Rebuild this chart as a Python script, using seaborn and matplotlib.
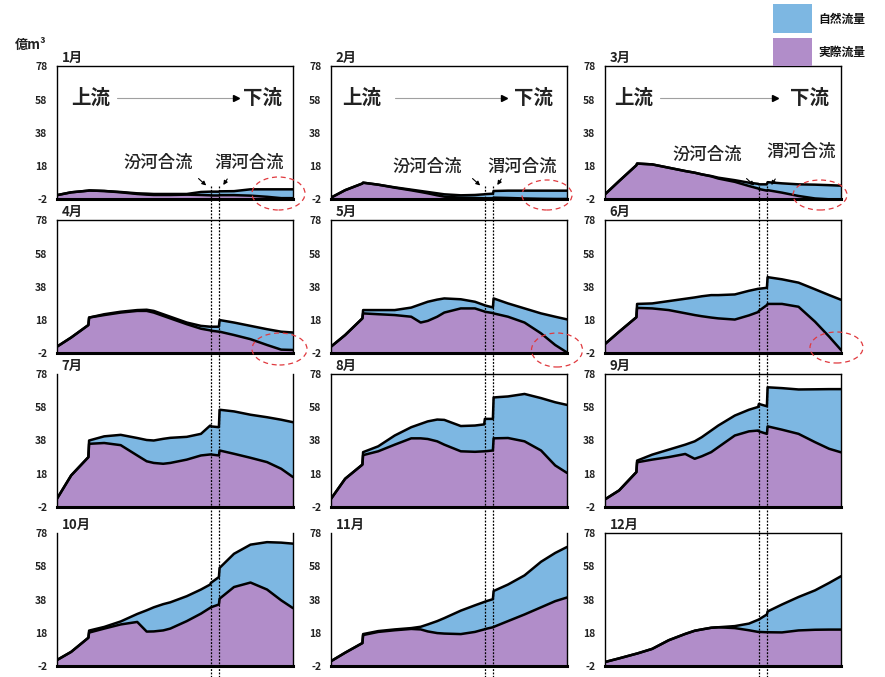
import numpy as np
import pandas as pd
import matplotlib.pyplot as plt
import seaborn as sns
from matplotlib.patches import Ellipse, Rectangle
from matplotlib.lines import Line2D

# distance along the river (% of reach), shared by every month
x_pos = [0, 6, 13.3, 13.6, 20, 27, 34, 38, 41, 45, 48, 55, 61, 64.9, 65.2, 68.6, 68.9, 75, 82, 89, 95, 100]
months = ["1月", "2月", "3月", "4月", "5月", "6月", "7月", "8月", "9月", "10月", "11月", "12月"]
fen_x, wei_x = 65.1, 68.8
y_ticks = [-2, 18, 38, 58, 78]

# natural flow (upper curve) and actual flow (lower curve), 億m3
natural_01 = [0.5, 2.2, 3.2, 3.3, 3.0, 2.4, 1.6, 1.4, 1.2, 1.2, 1.2, 1.2, 2.4, 2.6, 2.6, 2.6, 2.8, 2.9, 4.0, 4.0, 4.0, 4.0]
actual_01 = [0.5, 2.2, 3.2, 3.3, 3.0, 2.2, 1.2, 0.8, 0.6, 0.6, 0.6, 0.8, 0.6, 0.4, 0.3, 0.3, 0.5, 0.5, 0.2, -0.5, -1.3, -1.3]
natural_02 = [-1, 3.5, 7.5, 8.0, 6.8, 5.2, 3.8, 3.0, 2.4, 1.6, 1.0, 0.4, 0.6, 1.0, 1.1, 1.4, 3.0, 3.2, 3.2, 3.2, 3.2, 3.2]
actual_02 = [-1, 3.5, 7.5, 8.0, 6.8, 5.0, 3.4, 2.4, 1.6, 0.4, -0.4, -1.0, -1.2, -1.4, -1.4, -1.4, -1.0, -1.2, -1.5, -1.7, -1.8, -1.8]
natural_03 = [1, 9, 18.5, 19.5, 19, 17, 15, 14, 13, 12, 11, 9.5, 8.0, 7.3, 7.0, 7.0, 8.3, 7.6, 7.0, 6.8, 6.5, 6.2]
actual_03 = [1, 9, 18.5, 19.5, 19, 17, 15, 14, 13, 11.8, 10.5, 8.5, 6.0, 4.5, 4.2, 3.2, 3.5, 2.0, 0.0, -1.5, -2, -2]
natural_04 = [2, 7.5, 15, 19.5, 21.5, 23, 24, 24.2, 23.5, 21.5, 20, 16.5, 14.5, 14, 14, 14, 18, 16.5, 14.5, 12.5, 11, 10.5]
actual_04 = [2, 7.5, 15, 19.5, 21, 22.5, 23.5, 23.5, 22.5, 20.5, 19, 15.5, 12.8, 11.8, 11.6, 11, 11, 9, 6.5, 3, 0.2, 0]
natural_05 = [2, 9, 19, 24, 24, 24, 25.5, 27.5, 29, 30.3, 31, 30.5, 29, 27, 26.8, 25.6, 31, 28, 25, 22, 20, 18.4]
actual_05 = [2, 9, 19, 22, 21.5, 21, 20, 16.5, 17.5, 20, 22.5, 25, 25, 23.2, 23, 22.2, 22, 20, 16.5, 10, 3, -1.5]
natural_06 = [3.6, 11, 19.7, 27.7, 28, 29.4, 30.8, 31.6, 32.3, 33, 33, 33.4, 35.6, 36.8, 36.8, 37.4, 43.8, 42.5, 40.5, 36.5, 33, 30.2]
actual_06 = [3.6, 11, 19.7, 25.3, 25, 24, 22.1, 21, 20.3, 19.5, 19, 18.3, 20.8, 22.8, 23.5, 27, 27.7, 27.7, 26, 17, 8, 0]
natural_07 = [3, 17, 28, 38, 40.5, 41.4, 39.5, 38.3, 38, 39, 39.6, 40.2, 42, 47, 46.5, 46, 56.5, 55.5, 53.5, 52, 50.5, 49]
actual_07 = [3, 17, 28, 36, 36.5, 35.2, 29, 25.5, 24.5, 24, 24.5, 26.5, 29, 29.6, 29.6, 29, 32, 30, 27.6, 25, 21, 16]
natural_08 = [2.9, 15, 23.5, 31, 34.5, 41, 46, 48, 49.5, 50.6, 50.4, 46.7, 47, 47.7, 51, 51, 63.9, 64.5, 66, 63.5, 61, 59.4]
actual_08 = [2.9, 15, 23.5, 29.2, 31.5, 35.5, 39.3, 39.3, 38.9, 37.5, 35.5, 31.5, 31.2, 31.5, 31.5, 32, 39.3, 39.5, 37.5, 32, 23, 18.5]
natural_09 = [2.6, 8, 19, 25.9, 29.5, 32.5, 35.5, 37.5, 40, 44, 47, 53, 56.5, 58.2, 60, 58.6, 70, 69.5, 68.7, 68.8, 68.9, 68.9]
actual_09 = [2.6, 8, 19, 24.9, 26.5, 28, 29.9, 27, 28.5, 31, 34, 41, 43.5, 44, 43.5, 42, 46.5, 44.5, 42, 37, 33, 30.9]
natural_10 = [1.6, 6.5, 15, 19.3, 21.5, 24.8, 29.3, 31.5, 33.3, 35.2, 36.3, 40, 44, 47, 48, 51.5, 57, 65.5, 71, 72.5, 72.2, 71.6]
actual_10 = [1.6, 6.5, 15, 18.1, 20.5, 23, 24.5, 18.7, 18.8, 19.4, 20.5, 25, 29.5, 33, 33.3, 35, 38.5, 45.5, 48.2, 44, 37.5, 32.8]
natural_11 = [0.9, 6, 11.8, 17.2, 19, 20, 20.8, 21.6, 23, 25, 26.8, 31.3, 34.5, 36.5, 36.7, 38.2, 43.1, 47, 52.5, 60.7, 66, 69.6]
actual_11 = [0.9, 6, 11.8, 16.6, 18.5, 19.5, 20.3, 20, 18.8, 17.8, 17.5, 17.2, 18.5, 20, 20.2, 21.3, 21.5, 25, 29, 33.3, 37, 39.2]
natural_12 = [0.4, 2.6, 5.4, 5.5, 8.3, 13.5, 17.3, 19.2, 20, 21, 21.3, 22, 23.5, 25.8, 26, 29, 30.8, 35, 39.5, 43.5, 48, 52]
actual_12 = [0.4, 2.6, 5.4, 5.5, 8.3, 13.5, 17.3, 19.2, 20, 21, 21.3, 20.8, 19.5, 18.5, 18.5, 18.3, 18.3, 18.2, 19.4, 19.8, 19.9, 19.9]

natural_all = [natural_01, natural_02, natural_03, natural_04, natural_05, natural_06,
               natural_07, natural_08, natural_09, natural_10, natural_11, natural_12]
actual_all = [actual_01, actual_02, actual_03, actual_04, actual_05, actual_06,
              actual_07, actual_08, actual_09, actual_10, actual_11, actual_12]

sns.set_theme(style="white")
plt.rcParams['font.family'] = ['Noto Sans CJK JP', 'DejaVu Sans']

W, H = 885, 677
fig = plt.figure(figsize=(W / 100, H / 100), dpi=100)

blue = "#7db7e2"
purple = "#b18dc9"

col_left = [57, 331, 605]
col_w = 236
row_bottom = [199.3, 353.3, 507, 666]
row_h = 133
no_top = {"7月", "10月", "11月"}

# annotation layout for the first row (axes fractions)
up_x = [0.144, 0.13, 0.123]
down_x = [0.87, 0.86, 0.866]
arr_x = [(0.254, 0.758), (0.273, 0.733), (0.234, 0.72)]
fen_txt = [(0.428, 0.274), (0.407, 0.246), (0.435, 0.334)]
wei_txt = [(0.814, 0.274), (0.811, 0.246), (0.832, 0.36)]

for i, m in enumerate(months):
    r, c = divmod(i, 3)
    ax = fig.add_axes([col_left[c] / W, 1 - row_bottom[r] / H, col_w / W, row_h / H])
    df = pd.DataFrame({"x": x_pos, "natural": natural_all[i], "actual": actual_all[i]})
    ax.fill_between(df["x"], -2, df["natural"], color=blue, lw=0)
    ax.fill_between(df["x"], -2, df["actual"], color=purple, lw=0)
    sns.lineplot(data=df, x="x", y="natural", color="black", lw=1.8, ax=ax, estimator=None)
    sns.lineplot(data=df, x="x", y="actual", color="black", lw=1.8, ax=ax, estimator=None)
    ax.set_xlim(0, 100)
    ax.set_ylim(-2, 78)
    ax.set_yticks(y_ticks)
    ax.set_yticklabels([str(t) for t in y_ticks])
    ax.set_xticks([])
    ax.set_xlabel("")
    ax.set_ylabel("")
    ax.tick_params(axis="y", direction="in", length=3, width=0.8, labelsize=7.5, pad=7,
                   labelcolor="#222222", color="black")
    for lab in ax.get_yticklabels():
        lab.set_fontweight("bold")
    for s in ax.spines.values():
        s.set_color("black")
        s.set_linewidth(1.0)
    ax.spines["bottom"].set_linewidth(2.2)
    if m in no_top:
        ax.spines["top"].set_visible(False)
    ax.text(0.02, 1.01, m, transform=ax.transAxes, ha="left", va="bottom",
            fontsize=9.5, fontweight="bold", color="#222222")

    if r == 0:
        ax.text(up_x[c], 0.76, "上流", transform=ax.transAxes, ha="center", va="center",
                fontsize=14, fontweight="bold", color="#222222")
        ax.text(down_x[c], 0.76, "下流", transform=ax.transAxes, ha="center", va="center",
                fontsize=14, fontweight="bold", color="#222222")
        a0, a1 = arr_x[c]
        ax.plot([a0, a1], [0.76, 0.76], color="#a0a0a0", lw=0.8, transform=ax.transAxes)
        ax.plot([a1], [0.76], marker=">", color="black", ms=4, transform=ax.transAxes)
        ax.text(*fen_txt[c], "汾河合流", transform=ax.transAxes, ha="center", va="center",
                fontsize=12.5, fontweight="medium", color="#222222")
        ax.text(*wei_txt[c], "渭河合流", transform=ax.transAxes, ha="center", va="center",
                fontsize=12.5, fontweight="medium", color="#222222")
        fx, wx = fen_x / 100, wei_x / 100
        ax.annotate("", xy=(fx - 0.01, 0.09), xytext=(fx - 0.06, 0.17),
                    xycoords="axes fraction",
                    arrowprops=dict(arrowstyle="-|>", color="black", lw=0.8, mutation_scale=6))
        ax.annotate("", xy=(wx + 0.01, 0.09), xytext=(wx + 0.04, 0.17),
                    xycoords="axes fraction",
                    arrowprops=dict(arrowstyle="-|>", color="black", lw=0.8, mutation_scale=6))

# dotted confluence lines running down each column
for c in range(3):
    for xv in (fen_x, wei_x):
        fx = (col_left[c] + xv / 100 * col_w) / W
        fig.add_artist(Line2D([fx, fx], [1 - 186 / H, 0], transform=fig.transFigure,
                              color="black", lw=0.9, ls=(0, (1.5, 1.2))))

# red dashed ellipses marking dried-up reaches
ellipses = [(278.5, 193.5, 53, 33), (547, 195, 50, 30), (820, 195, 54, 30),
            (279.5, 349, 55, 32), (557, 350, 51, 34), (836.5, 347.5, 53, 31)]
for cx, cy, ew, eh in ellipses:
    fig.add_artist(Ellipse((cx / W, 1 - cy / H), ew / W, eh / H, transform=fig.transFigure,
                           fill=False, ec="#e0393e", lw=0.9, ls=(0, (4, 3))))

# unit label
fig.text(15 / W, 1 - 45 / H, "億m³", ha="left", va="center", fontsize=9.5,
         fontweight="bold", color="#222222")

# legend
fig.add_artist(Rectangle((773 / W, 1 - 33 / H), 39 / W, 29 / H, transform=fig.transFigure,
                         color=blue, lw=0))
fig.add_artist(Rectangle((773 / W, 1 - 66 / H), 39 / W, 28 / H, transform=fig.transFigure,
                         color=purple, lw=0))
fig.text(818 / W, 1 - 19 / H, "自然流量", ha="left", va="center", fontsize=8.5,
         fontweight="bold", color="#111111")
fig.text(818 / W, 1 - 52 / H, "実際流量", ha="left", va="center", fontsize=8.5,
         fontweight="bold", color="#111111")

fig.savefig("out.png", dpi=100)
